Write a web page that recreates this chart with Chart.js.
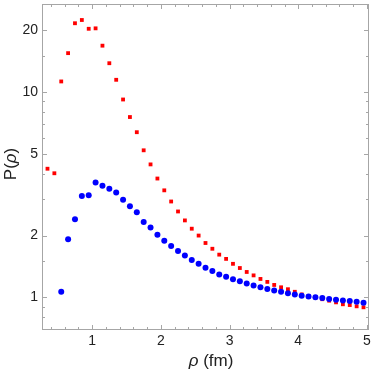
<!DOCTYPE html>
<html>
<head>
<meta charset="utf-8">
<script src="https://cdn.jsdelivr.net/npm/chart.js@4.4.0/dist/chart.umd.min.js"></script>
<style>
  html, body { margin: 0; padding: 0; background: #fff; }
</style>
</head>
<body>
<canvas id="chart" width="374" height="372"></canvas>
<script>
// data
const rhoBlue = [0.55, 0.65, 0.75, 0.85, 0.95, 1.05, 1.15, 1.25, 1.35, 1.45,
  1.55, 1.65, 1.75, 1.85, 1.95, 2.05, 2.15, 2.25, 2.35, 2.45,
  2.55, 2.65, 2.75, 2.85, 2.95, 3.05, 3.15, 3.25, 3.35, 3.45,
  3.55, 3.65, 3.75, 3.85, 3.95, 4.05, 4.15, 4.25, 4.35, 4.45,
  4.55, 4.65, 4.75, 4.85, 4.95];
const pBlue = [1.065, 1.92, 2.40, 3.12, 3.14, 3.62, 3.50, 3.38, 3.24, 2.99,
  2.78, 2.60, 2.33, 2.19, 2.02, 1.886, 1.778, 1.68, 1.60, 1.52,
  1.457, 1.394, 1.343, 1.294, 1.262, 1.225, 1.198, 1.168, 1.142, 1.12,
  1.10, 1.08, 1.065, 1.049, 1.034, 1.019, 1.011, 1.003, 0.992, 0.981,
  0.974, 0.967, 0.96, 0.953, 0.943];

const rhoRed = [0.35, 0.45, 0.55, 0.65, 0.75, 0.85, 0.95, 1.05, 1.15, 1.25,
  1.35, 1.45, 1.55, 1.65, 1.75, 1.85, 1.95, 2.05, 2.15, 2.25,
  2.35, 2.45, 2.55, 2.65, 2.75, 2.85, 2.95, 3.05, 3.15, 3.25,
  3.35, 3.45, 3.55, 3.65, 3.75, 3.85, 3.95, 4.05, 4.15, 4.25,
  4.35, 4.45, 4.55, 4.65, 4.75, 4.85, 4.95];
const pRed = [4.23, 4.02, 11.25, 15.45, 21.6, 22.4, 20.3, 20.4, 16.8, 13.8,
  11.46, 9.19, 7.55, 6.37, 5.20, 4.44, 3.79, 3.32, 2.93, 2.62,
  2.37, 2.16, 2.0, 1.84, 1.725, 1.615, 1.54, 1.457, 1.39, 1.33,
  1.28, 1.23, 1.19, 1.15, 1.12, 1.096, 1.065, 1.034, 1.01, 1.0,
  0.98, 0.964, 0.946, 0.926, 0.918, 0.905, 0.895];

const xTicks = [1, 2, 3, 4, 5];
const xMinor = [0.4, 0.6, 0.8, 1.2, 1.4, 1.6, 1.8, 2.2, 2.4, 2.6, 2.8,
  3.2, 3.4, 3.6, 3.8, 4.2, 4.4, 4.6, 4.8];
const yTicks = [1, 2, 5, 10, 20];
const yMinor = [0.7, 0.8, 0.9, 1.5, 3, 4, 6, 7, 8, 9, 15];

const FONT = '"Liberation Sans", Arial, sans-serif';

function toPoints(xs, ys) {
  return xs.map((x, i) => ({ x: x, y: ys[i] }));
}

// Mathematica style frame with inward ticks, labels and axis titles
const framePlugin = {
  id: 'frame',
  beforeDatasetsDraw(chart) {
    const { ctx, chartArea: a, scales } = chart;
    const xs = scales.x, ys = scales.y;
    ctx.save();
    ctx.strokeStyle = '#a6a6a6';
    ctx.lineWidth = 1;
    ctx.strokeRect(a.left + 0.5, a.top + 0.5, a.right - a.left - 1, a.bottom - a.top - 1);

    ctx.beginPath();
    const tickX = (v, len) => {
      const px = Math.round(xs.getPixelForValue(v)) + 0.5;
      ctx.moveTo(px, a.bottom); ctx.lineTo(px, a.bottom - len);
      ctx.moveTo(px, a.top); ctx.lineTo(px, a.top + len);
    };
    const tickY = (v, len) => {
      const py = Math.round(ys.getPixelForValue(v)) + 0.5;
      ctx.moveTo(a.left, py); ctx.lineTo(a.left + len, py);
      ctx.moveTo(a.right, py); ctx.lineTo(a.right - len, py);
    };
    xTicks.forEach(v => tickX(v, 5));
    xMinor.forEach(v => tickX(v, 3));
    yTicks.forEach(v => tickY(v, 5));
    yMinor.forEach(v => tickY(v, 3));
    ctx.stroke();

    // tick labels
    ctx.fillStyle = '#222';
    ctx.font = '14px ' + FONT;
    ctx.textAlign = 'center';
    ctx.textBaseline = 'middle';
    xTicks.forEach(v => ctx.fillText(String(v), xs.getPixelForValue(v), a.bottom + 11));
    ctx.textAlign = 'right';
    yTicks.forEach(v => ctx.fillText(String(v), a.left - 4, ys.getPixelForValue(v)));

    // axis titles, rho in italics
    const parts = (list) => list.map(p => {
      ctx.font = (p[1] ? 'italic ' : '') + '17px ' + FONT;
      return { t: p[0], it: p[1], w: ctx.measureText(p[0]).width };
    });
    const drawParts = (ps, x0, y0) => {
      let x = x0;
      ps.forEach(p => {
        ctx.font = (p.it ? 'italic ' : '') + '17px ' + FONT;
        ctx.fillText(p.t, x, y0);
        x += p.w;
      });
    };
    ctx.textAlign = 'left';
    ctx.textBaseline = 'alphabetic';
    const xt = parts([['ρ', true], [' (fm)', false]]);
    const xw = xt.reduce((s, p) => s + p.w, 0);
    drawParts(xt, 211 - xw / 2, 366);

    const yt = parts([['P(', false], ['ρ', true], [')', false]]);
    const yw = yt.reduce((s, p) => s + p.w, 0);
    ctx.translate(16, 164);
    ctx.rotate(-Math.PI / 2);
    drawParts(yt, -yw / 2, 0);
    ctx.restore();
  }
};

new Chart(document.getElementById('chart'), {
  type: 'scatter',
  data: {
    datasets: [
      {
        label: 'blue',
        data: toPoints(rhoBlue, pBlue),
        backgroundColor: '#0000ff',
        borderWidth: 0,
        pointStyle: 'circle',
        pointRadius: 3
      },
      {
        label: 'red',
        data: toPoints(rhoRed, pRed),
        backgroundColor: '#ff0000',
        borderWidth: 0,
        pointStyle: 'rect',
        pointRadius: 2.7
      }
    ]
  },
  options: {
    responsive: false,
    animation: false,
    layout: { padding: { top: 0, right: 5, left: 0, bottom: 0 } },
    plugins: { legend: { display: false }, tooltip: { enabled: false } },
    scales: {
      x: {
        type: 'linear',
        min: 0.27,
        max: 5.03,
        ticks: { display: false },
        grid: { display: false },
        border: { display: false },
        afterFit: s => { s.height = 42; }
      },
      y: {
        type: 'logarithmic',
        min: 0.694,
        max: 26.8,
        ticks: { display: false },
        grid: { display: false },
        border: { display: false },
        afterFit: s => { s.width = 42; }
      }
    }
  },
  plugins: [framePlugin]
});
</script>
</body>
</html>
